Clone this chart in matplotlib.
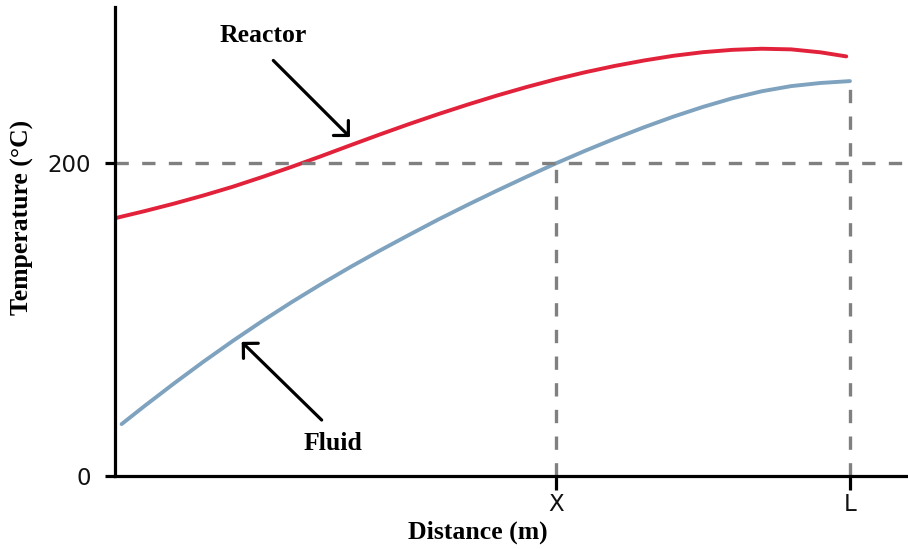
import matplotlib
matplotlib.use("Agg")
import matplotlib.pyplot as plt

# ---- data ----
reactor_x = [0.00, 0.04, 0.08, 0.12, 0.16, 0.20, 0.24, 0.28, 0.32, 0.36, 0.40,
             0.44, 0.48, 0.52, 0.56, 0.60, 0.64, 0.68, 0.72, 0.76, 0.80, 0.84,
             0.88, 0.92, 0.96, 0.995]
reactor_t = [164.9, 169.4, 174.2, 179.4, 185.0, 191.2, 197.7, 204.5, 211.5, 218.4,
             225.1, 231.5, 237.6, 243.4, 248.8, 253.8, 258.3, 262.3, 265.8, 268.8,
             271.1, 272.6, 273.3, 272.9, 271.0, 268.4]

fluid_x = [0.009, 0.04, 0.08, 0.12, 0.16, 0.20, 0.24, 0.28, 0.32, 0.36, 0.40,
           0.44, 0.48, 0.52, 0.56, 0.60, 0.64, 0.68, 0.72, 0.76, 0.80, 0.84,
           0.88, 0.92, 0.96, 1.00]
fluid_t = [33.2, 44.7, 59.1, 73.0, 86.3, 99.0, 111.1, 122.6, 133.6, 144.1, 154.2,
           164.1, 173.5, 182.6, 191.4, 200.0, 208.1, 215.8, 223.1, 229.9, 236.1,
           241.6, 246.1, 249.4, 251.4, 252.6]

x_tick_pos = [0.6, 1.0]
x_tick_labels = ["X", "L"]
y_tick_pos = [0, 200]
y_tick_labels = ["0", "200"]
guide_temp = 200

# ---- figure ----
fig = plt.figure(figsize=(9.08, 5.49), dpi=100)
ax = fig.add_axes([115/908, 1-476/549, (908-115)/908, (476-7)/549])
ax.set_xlim(0, 1.079)
ax.set_ylim(0, 300)

red = "#E2213A"
blue = "#7FA3BF"
gray = "#808080"

ax.plot(reactor_x, reactor_t, color=red, lw=2.8, solid_capstyle="round",
        solid_joinstyle="round", zorder=3)
ax.plot(fluid_x, fluid_t, color=blue, lw=2.8, solid_capstyle="round",
        solid_joinstyle="round", zorder=3)

dash_kw = dict(color=gray, lw=2.4, linestyle=(0, (4.0, 4.0)), zorder=4)
ax.axhline(guide_temp, **dash_kw)
ax.vlines(x_tick_pos[0], 0, guide_temp, **dash_kw)
ax.vlines(x_tick_pos[1], 0, fluid_t[-1], **dash_kw)

# spines
for s in ["top", "right"]:
    ax.spines[s].set_visible(False)
for s in ["left", "bottom"]:
    ax.spines[s].set_linewidth(2.3)
    ax.spines[s].set_color("black")
    ax.spines[s].set_zorder(5)

ax.set_xticks(x_tick_pos)
ax.set_xticklabels(x_tick_labels)
ax.set_yticks(y_tick_pos)
ax.set_yticklabels(y_tick_labels)
ax.tick_params(axis="x", direction="out", length=10, width=2.3, pad=2,
               labelsize=16.5, labelcolor="#111111")
ax.tick_params(axis="y", direction="out", length=7.5, width=2.3, pad=10,
               labelsize=16.5, labelcolor="#111111")
for lab in ax.get_xticklabels() + ax.get_yticklabels():
    lab.set_fontfamily("DejaVu Sans")

serif = dict(family="Liberation Serif", weight="bold", size=18.5)
ax.set_xlabel("Distance (m)", va="center", **serif)
ax.xaxis.set_label_coords((478-115)/793, (476-532)/469)
ax.set_ylabel("Temperature (\u00b0C)", va="center", **serif)
ax.yaxis.set_label_coords((22-115)/793, (476-217)/469)

arrow_kw = dict(arrowstyle="->,head_length=0.38,head_width=0.38", color="black",
                lw=2.3, mutation_scale=20, shrinkA=0, shrinkB=0)
ax.annotate("", xy=(0.3197, 216.8), xytext=(0.2154, 265.8),
            arrowprops=arrow_kw, zorder=6)
ax.annotate("", xy=(0.1724, 85.8), xytext=(0.2812, 35.8),
            arrowprops=arrow_kw, zorder=6)
ax.text(0.2018, 281.8, "Reactor", ha="center", va="center", **serif)
ax.text(0.297, 20.9, "Fluid", ha="center", va="center", **serif)

fig.savefig("out.png", dpi=100)
